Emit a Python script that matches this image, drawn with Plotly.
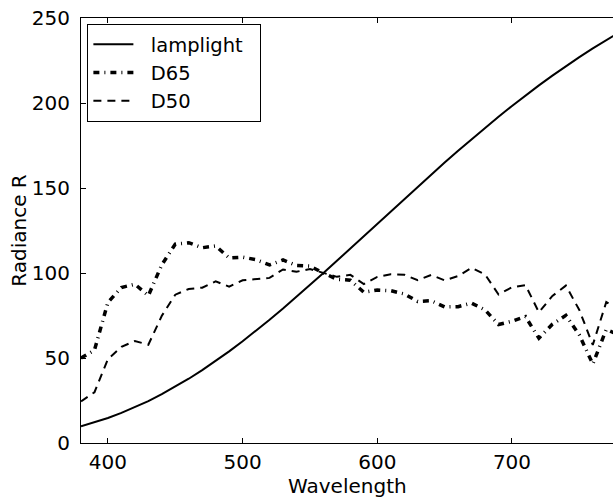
import plotly.graph_objects as go

wavelength = list(range(380, 790, 10))

lamplight = [9.80, 12.09, 14.71, 17.68, 20.99, 24.67, 28.70, 33.09, 37.81, 42.87,
             48.24, 53.91, 59.86, 66.06, 72.50, 79.13, 85.95, 92.91, 100.00, 107.18,
             114.44, 121.73, 129.04, 136.35, 143.62, 150.84, 157.98, 165.03, 171.96, 178.77,
             185.43, 191.93, 198.26, 204.41, 210.36, 216.12, 221.67, 227.00, 232.12, 237.01,
             241.68]

d65 = [49.98, 54.65, 82.75, 91.49, 93.43, 86.68, 104.86, 117.01, 117.81, 114.86,
       115.92, 108.81, 109.35, 107.80, 104.79, 107.69, 104.41, 104.05, 100.00, 96.33,
       95.79, 88.69, 90.01, 89.60, 87.70, 83.29, 83.70, 80.03, 80.21, 82.28,
       78.28, 69.72, 71.61, 74.35, 61.60, 69.89, 75.09, 63.59, 46.42, 66.81,
       63.38]

d50 = [24.49, 29.87, 49.31, 56.51, 60.03, 57.82, 74.82, 87.25, 90.61, 91.37,
       95.11, 91.96, 95.72, 96.61, 97.13, 102.10, 100.75, 102.32, 100.00, 97.74,
       98.92, 93.50, 97.69, 99.27, 99.04, 95.72, 98.86, 95.67, 98.19, 103.00,
       99.13, 87.38, 91.60, 92.89, 76.85, 86.51, 92.58, 78.23, 57.69, 82.92,
       78.27]

series_names = ["lamplight", "D65", "D50"]
x_title = "Wavelength"
y_title = "Radiance R"

x_ticks = [400, 500, 600, 700]
y_ticks = [0, 50, 100, 150, 200, 250]

FONT = "DejaVu Sans"
PAD_L = "\u00a0\u00a0"
PAD_R = "\u00a0\u00a0"

fig = go.Figure()
fig.add_trace(go.Scatter(x=wavelength, y=lamplight, mode="lines",
                         name=PAD_L + series_names[0] + PAD_R,
                         line=dict(color="black", width=2)))
fig.add_trace(go.Scatter(x=wavelength, y=d65, mode="lines",
                         name=PAD_L + series_names[1],
                         line=dict(color="black", width=3.5, dash="6px,5px,1px,5px")))
fig.add_trace(go.Scatter(x=wavelength, y=d50, mode="lines",
                         name=PAD_L + series_names[2],
                         line=dict(color="black", width=2, dash="8px,6px")))

fig.update_layout(
    width=613, height=499,
    margin=dict(l=81, r=0, t=18, b=56, pad=0),
    paper_bgcolor="white", plot_bgcolor="white",
    font=dict(family=FONT, size=20, color="black"),
    showlegend=True,
    legend=dict(x=0.012, y=0.986, xanchor="left", yanchor="top",
                bordercolor="black", borderwidth=1, bgcolor="white",
                font=dict(family=FONT, size=19.5, color="black"),
                itemwidth=40, tracegroupgap=0),
    xaxis=dict(range=[380, 775], tickvals=x_ticks, ticktext=[str(v) for v in x_ticks],
               ticks="inside", ticklen=5, tickcolor="black", showline=True,
               linecolor="black", linewidth=1, mirror="ticks", showgrid=False,
               zeroline=False, ticklabelstandoff=1),
    yaxis=dict(range=[0, 250], tickvals=y_ticks, ticktext=[str(v) for v in y_ticks],
               ticks="inside", ticklen=5, tickcolor="black", showline=True,
               linecolor="black", linewidth=1, mirror=False, showgrid=False,
               zeroline=False, ticklabelstandoff=6),
    annotations=[
        dict(text=x_title, xref="paper", yref="paper", x=0.5, y=-0.1,
             xanchor="center", yanchor="middle", showarrow=False,
             font=dict(family=FONT, size=20, color="black")),
        dict(text=y_title, xref="paper", yref="paper", x=-0.118, y=0.5,
             xanchor="center", yanchor="middle", showarrow=False, textangle=-90,
             font=dict(family=FONT, size=20, color="black")),
    ],
)

fig.write_html("out.html", config={"displayModeBar": False},
               post_script="document.body.style.margin='0';document.body.style.overflow='hidden';")
